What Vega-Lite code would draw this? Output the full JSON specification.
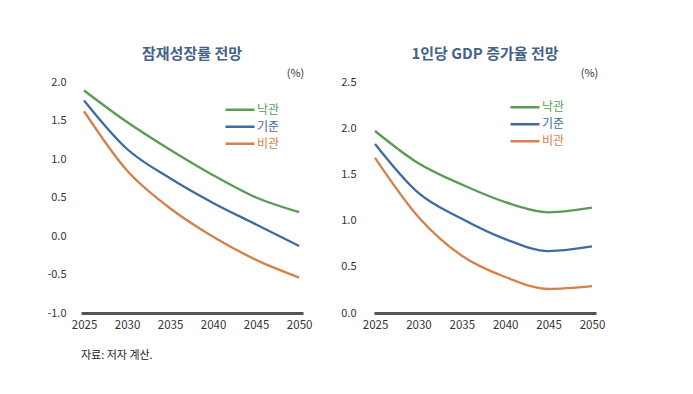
{
  "$schema": "https://vega.github.io/schema/vega-lite/v6.json",
  "background": "white",
  "padding": {"left": 46, "top": 47, "right": 5, "bottom": 5},
  "config": {
    "font": "Noto Sans CJK KR",
    "view": {"stroke": null},
    "axis": {"labelFont": "Noto Sans CJK KR", "labelColor": "#333333", "labelFontSize": 11, "ticks": false, "grid": false, "labelOverlap": false},
    "title": {"font": "Noto Sans CJK KR", "fontSize": 15, "fontWeight": "bold", "color": "#44628A"}
  },
  "datasets": {
    "potential": [
      {"year": 2025, "scenario": "낙관", "value": 1.89},
      {"year": 2030, "scenario": "낙관", "value": 1.48},
      {"year": 2035, "scenario": "낙관", "value": 1.12},
      {"year": 2040, "scenario": "낙관", "value": 0.79},
      {"year": 2045, "scenario": "낙관", "value": 0.5},
      {"year": 2050, "scenario": "낙관", "value": 0.31},
      {"year": 2025, "scenario": "기준", "value": 1.76},
      {"year": 2030, "scenario": "기준", "value": 1.13},
      {"year": 2035, "scenario": "기준", "value": 0.75},
      {"year": 2040, "scenario": "기준", "value": 0.43},
      {"year": 2045, "scenario": "기준", "value": 0.15},
      {"year": 2050, "scenario": "기준", "value": -0.13},
      {"year": 2025, "scenario": "비관", "value": 1.62},
      {"year": 2030, "scenario": "비관", "value": 0.85},
      {"year": 2035, "scenario": "비관", "value": 0.36},
      {"year": 2040, "scenario": "비관", "value": -0.01},
      {"year": 2045, "scenario": "비관", "value": -0.31},
      {"year": 2050, "scenario": "비관", "value": -0.54}
    ],
    "gdp": [
      {"year": 2025, "scenario": "낙관", "value": 1.97},
      {"year": 2030, "scenario": "낙관", "value": 1.62},
      {"year": 2035, "scenario": "낙관", "value": 1.39},
      {"year": 2040, "scenario": "낙관", "value": 1.2},
      {"year": 2045, "scenario": "낙관", "value": 1.09},
      {"year": 2050, "scenario": "낙관", "value": 1.14},
      {"year": 2025, "scenario": "기준", "value": 1.83},
      {"year": 2030, "scenario": "기준", "value": 1.3},
      {"year": 2035, "scenario": "기준", "value": 1.02},
      {"year": 2040, "scenario": "기준", "value": 0.8},
      {"year": 2045, "scenario": "기준", "value": 0.67},
      {"year": 2050, "scenario": "기준", "value": 0.72},
      {"year": 2025, "scenario": "비관", "value": 1.68},
      {"year": 2030, "scenario": "비관", "value": 1.04},
      {"year": 2035, "scenario": "비관", "value": 0.62},
      {"year": 2040, "scenario": "비관", "value": 0.39},
      {"year": 2045, "scenario": "비관", "value": 0.26},
      {"year": 2050, "scenario": "비관", "value": 0.29}
    ]
  },
  "title": {"text": "자료: 저자 계산.", "orient": "bottom", "anchor": "start", "fontSize": 11, "fontWeight": "normal", "color": "#222222", "offset": 19, "dx": 34},
  "bounds": "flush",
  "spacing": 71,
  "resolve": {"scale": {"y": "independent", "color": "independent"}, "legend": {"color": "independent"}},
  "hconcat": [
    {
      "width": 222,
      "height": 231,
      "title": {"text": "잠재성장률 전망", "offset": 5},
      "layer": [
        {
          "mark": {"type": "rule", "color": "#c8c8c8", "strokeWidth": 1},
          "encoding": {"y": {"datum": 0, "type": "quantitative", "scale": {"domain": [-1, 2], "nice": false},
                  "axis": {"values": [-1, -0.5, 0, 0.5, 1, 1.5, 2], "labelExpr": "replace(format(datum.value, '.1f'), '−', '-')", "domain": false, "labelPadding": 15, "labelOverlap": false,
                           "title": "(%)", "titleAngle": 0, "titleX": 214, "titleY": -9, "titleAlign": "center", "titleBaseline": "middle", "titleFontWeight": "normal", "titleFontSize": 11, "titleColor": "#333333"}}}
        },
        {
          "data": {"name": "potential"},
          "mark": {"type": "line", "interpolate": "monotone", "strokeWidth": 2.3},
          "encoding": {
            "x": {"field": "year", "type": "quantitative", "scale": {"domain": [2024.65, 2050.45], "nice": false, "zero": false},
                  "axis": {"values": [2025, 2030, 2035, 2040, 2045, 2050], "format": "d", "title": null, "domainColor": "#555555", "domainWidth": 3, "labelPadding": 6, "labelFontSize": 11.5}},
            "y": {"field": "value", "type": "quantitative", "scale": {"domain": [-1, 2], "nice": false},
                  "axis": {"values": [-1, -0.5, 0, 0.5, 1, 1.5, 2], "labelExpr": "replace(format(datum.value, '.1f'), '−', '-')", "domain": false, "labelPadding": 15, "labelOverlap": false,
                           "title": "(%)", "titleAngle": 0, "titleX": 214, "titleY": -9, "titleAlign": "center", "titleBaseline": "middle", "titleFontWeight": "normal", "titleFontSize": 11, "titleColor": "#333333"}},
            "color": {"field": "scenario", "type": "nominal",
                      "scale": {"domain": ["낙관", "기준", "비관"], "range": ["#5B9B57", "#3F6BA3", "#D4814A"]},
                      "legend": {"orient": "none", "legendX": 143, "legendY": 19.5, "title": null, "symbolType": "stroke", "symbolSize": 841, "symbolStrokeWidth": 2.3,
                                 "clipHeight": 16.5, "rowPadding": 0,
                                 "labelFontSize": 12, "labelFont": "Noto Sans CJK KR", "labelOffset": 1,
                                 "labelColor": {"expr": "datum.label == '낙관' ? '#5B9B57' : datum.label == '기준' ? '#3F6BA3' : '#D4814A'"}}}
          }
        }
      ]
    },
    {
      "width": 222,
      "height": 231,
      "title": {"text": "1인당 GDP 증가율 전망", "offset": 5},
      "data": {"name": "gdp"},
      "mark": {"type": "line", "interpolate": "monotone", "strokeWidth": 2.3},
      "encoding": {
        "x": {"field": "year", "type": "quantitative", "scale": {"domain": [2024.88, 2050.46], "nice": false, "zero": false},
              "axis": {"values": [2025, 2030, 2035, 2040, 2045, 2050], "format": "d", "title": null, "domainColor": "#555555", "domainWidth": 3, "labelPadding": 6, "labelFontSize": 11.5}},
        "y": {"field": "value", "type": "quantitative", "scale": {"domain": [0, 2.5], "nice": false},
              "axis": {"values": [0, 0.5, 1, 1.5, 2, 2.5], "format": ".1f", "domain": false, "labelPadding": 18,
                       "title": "(%)", "titleAngle": 0, "titleX": 215, "titleY": -9, "titleAlign": "center", "titleBaseline": "middle", "titleFontWeight": "normal", "titleFontSize": 11, "titleColor": "#333333"}},
        "color": {"field": "scenario", "type": "nominal",
                  "scale": {"domain": ["낙관", "기준", "비관"], "range": ["#5B9B57", "#3F6BA3", "#D4814A"]},
                  "legend": {"orient": "none", "legendX": 135, "legendY": 17, "title": null, "symbolType": "stroke", "symbolSize": 841, "symbolStrokeWidth": 2.3,
                             "clipHeight": 16.5, "rowPadding": 0,
                             "labelFontSize": 12, "labelFont": "Noto Sans CJK KR", "labelOffset": 1,
                             "labelColor": {"expr": "datum.label == '낙관' ? '#5B9B57' : datum.label == '기준' ? '#3F6BA3' : '#D4814A'"}}}
      }
    }
  ]
}
